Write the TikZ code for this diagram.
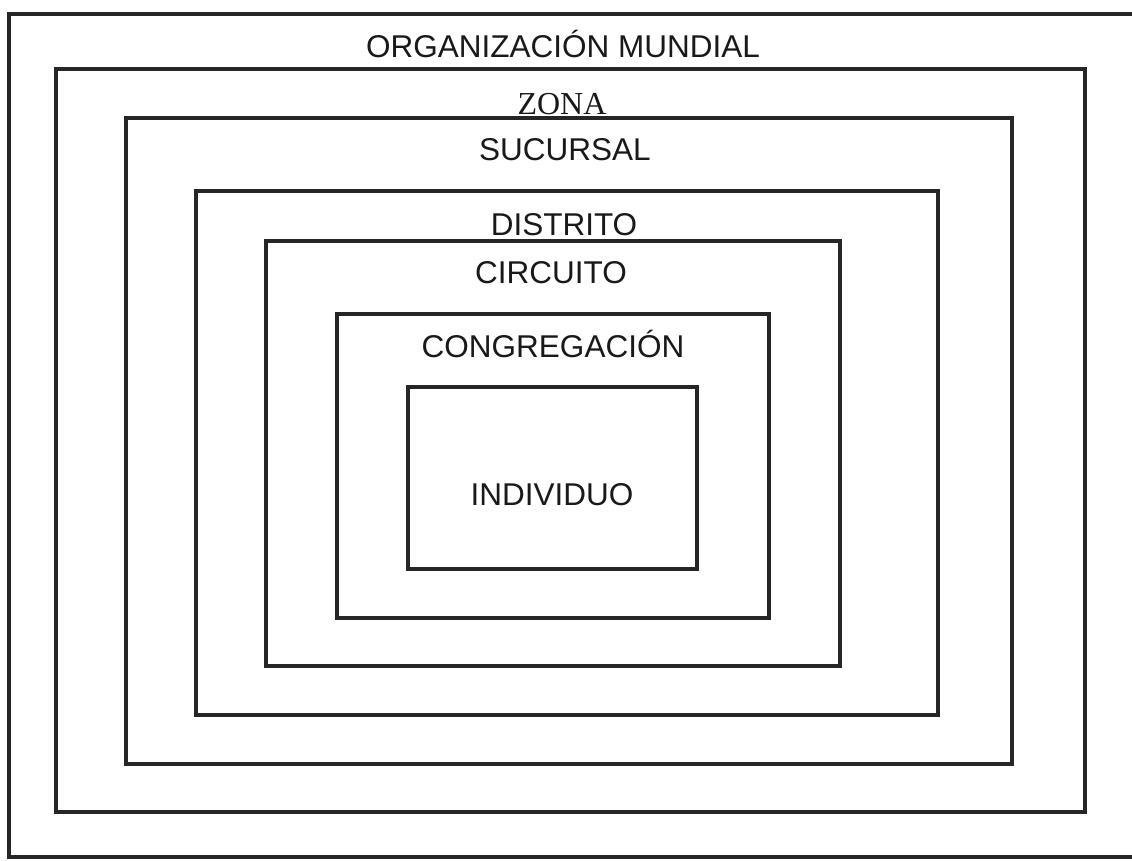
\documentclass[tikz,border=0pt]{standalone}
\usepackage{fontspec}
\setmainfont{Liberation Sans}
\newfontfamily\zonafont{Liberation Serif}
\begin{document}
\begin{tikzpicture}[x=1pt,y=-1pt,
  frame/.style={draw=black!85,line width=4pt},
  lbl/.style={anchor=base,inner sep=0pt,font=\fontsize{31.5}{36}\selectfont,text=black!90}]
\useasboundingbox (0,0) rectangle (1132,860);
\begin{scope}
\clip (0,0) rectangle (1132,860);
\draw[frame] (9,14) rectangle (1138,857);
\end{scope}
\draw[frame] (56,69) rectangle (1085,812);
\draw[frame] (126,118) rectangle (1012,764);
\draw[frame] (196,191) rectangle (938,715);
\draw[frame] (266,241) rectangle (840,666);
\draw[frame] (337,314) rectangle (769,618);
\draw[frame] (408,387) rectangle (697,569);
\node[lbl] (org) at (563,57) {ORGANIZACIÓN MUNDIAL};
\node[lbl,font=\zonafont\fontsize{32}{36}\selectfont] (zona) at (562,114) {ZONA};
\node[lbl] (suc) at (565,160) {SUCURSAL};
\node[lbl] (dis) at (564,235) {DISTRITO};
\node[lbl] (cir) at (551,283) {CIRCUITO};
\node[lbl] (con) at (553,357) {CONGREGACIÓN};
\node[lbl] (ind) at (552,505) {INDIVIDUO};
\end{tikzpicture}
\end{document}
